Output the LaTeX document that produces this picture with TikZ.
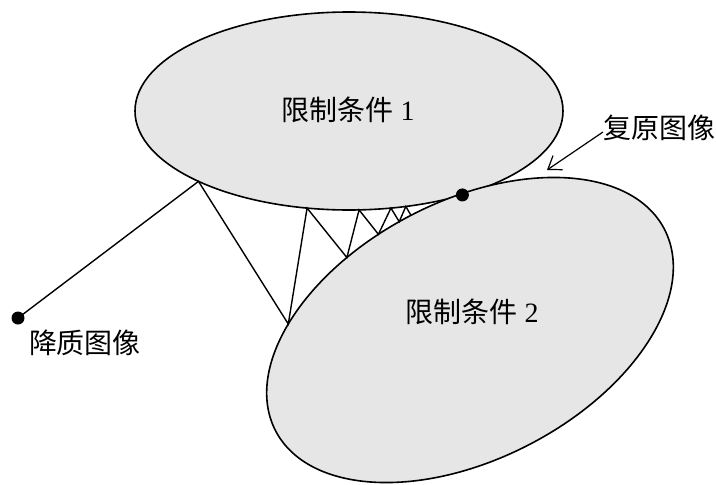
\documentclass[tikz,border=0pt]{standalone}
\usepackage{fontspec}
\setmainfont{Liberation Serif}
\newfontfamily\cjk{Noto Sans CJK SC}
\usetikzlibrary{arrows.meta}
\definecolor{ellfill}{RGB}{230,230,230}
\begin{document}
\begin{tikzpicture}[x=1pt,y=1pt,
  ell/.style={draw=black, line width=1.6pt, fill=ellfill},
  zig/.style={draw=black, line width=1.4pt, line join=miter},
  lbl/.style={font=\fontsize{28}{32}\selectfont, inner sep=0pt},
  dotmark/.style={circle, fill=black, inner sep=0pt, minimum size=13pt}]
\useasboundingbox (0,0) rectangle (716,-485);
% constraint set 1
\begin{scope}[shift={(349,-111)}]
  \draw[ell] (0,0) ellipse [x radius=214, y radius=99];
  \coordinate (a1) at (225.3:214 and 99);
  \coordinate (a2) at (258.7:214 and 99);
  \coordinate (a3) at (272.7:214 and 99);
  \coordinate (a4) at (281.3:214 and 99);
  \coordinate (a5) at (285.4:214 and 99);
  \coordinate (ad) at (302:214 and 99);
\end{scope}
% constraint set 2
\begin{scope}[shift={(470,-330)}, rotate=27.4]
  \draw[ell] (0,0) ellipse [x radius=219, y radius=129];
  \coordinate (b1) at (136.4:219 and 129);
  \coordinate (b2) at (110.3:219 and 129);
  \coordinate (b3) at (99.8:219 and 129);
  \coordinate (b4) at (93.4:219 and 129);
  \coordinate (b5) at (89.9:219 and 129);
\end{scope}
% labels
\node[lbl] (L1) at (348,-110) {{\cjk 限制条件} 1};
\node[lbl] (L2) at (472,-312) {{\cjk 限制条件} 2};
\node[lbl, anchor=west] (Lrest) at (603,-128) {\cjk 复原图像};
\node[lbl] (Ldeg) at (85,-343) {\cjk 降质图像};
% dots
\node[dotmark] (deg) at (18,-318) {};
\node[dotmark] (rest) at (ad) {};
% projection path
\draw[zig] (deg.center) -- (a1) -- (b1) -- (a2) -- (b2) -- (a3) -- (b3) -- (a4) -- (b4) -- (a5) -- (b5);
% arrow
\coordinate (arrtip) at (547,-170);
\draw[line width=1.2pt, -{Straight Barb[length=12pt,width=17pt]}] ([yshift=-4pt]Lrest.west) -- (arrtip);
\end{tikzpicture}
\end{document}
